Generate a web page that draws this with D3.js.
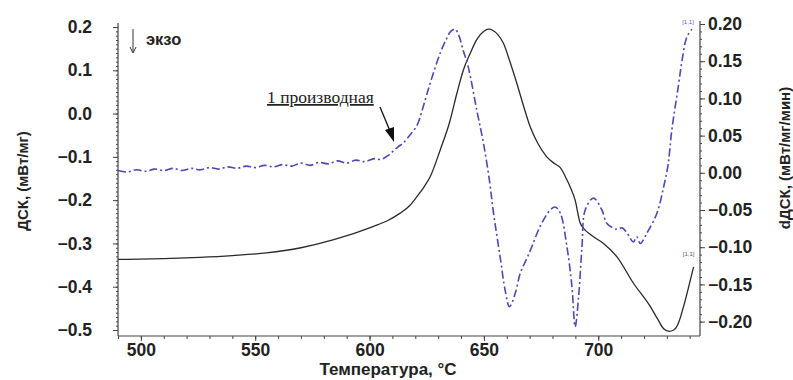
<!DOCTYPE html>
<html>
<head>
<meta charset="utf-8">
<script src="https://cdn.jsdelivr.net/npm/d3@7/dist/d3.min.js"></script>
<style>
  html, body { margin: 0; padding: 0; background: #fff; }
  svg { display: block; }
  .tick text { font-family: "Liberation Sans", Arial, sans-serif; font-weight: bold; fill: #222; }
</style>
</head>
<body>
<svg id="chart" width="793" height="380"></svg>
<script>
// DSC curve (left axis): temperature, °C and heat flow, mW/mg
const dscTemp = [490, 510, 525.8, 540, 555, 570, 584, 601.5, 608, 613.4, 617.5, 620.7, 624, 626.5, 630.9, 635, 638.2, 641, 644, 647, 650, 652, 654, 656, 658.6, 661.5, 664.4, 667.3, 670.2, 673.5, 677.5, 681, 683.4, 686.3, 687.7, 689.9, 692.1, 693.6, 697, 702.3, 708.2, 715.4, 722.8, 726, 728.6, 731, 733, 735, 737.3, 740.3, 741.7];
const dscValue = [-0.337, -0.335, -0.332, -0.328, -0.322, -0.310, -0.292, -0.261, -0.247, -0.230, -0.213, -0.192, -0.168, -0.146, -0.084, -0.020, 0.047, 0.100, 0.139, 0.172, 0.190, 0.195, 0.192, 0.183, 0.162, 0.118, 0.070, 0.018, -0.030, -0.068, -0.100, -0.116, -0.125, -0.153, -0.169, -0.200, -0.253, -0.265, -0.281, -0.300, -0.331, -0.392, -0.446, -0.475, -0.497, -0.503, -0.500, -0.485, -0.446, -0.384, -0.354];

// First derivative of DSC (right axis): mW/mg/min
const dTemp = [490, 494, 498, 502, 506, 510, 514, 518, 522, 526, 530, 534, 538, 542, 546, 550, 554, 558, 562, 566, 570, 574, 578, 582, 586, 590, 594, 598, 602, 605, 608, 610.3, 612.5, 614.7, 617.5, 620.8, 623, 625, 627.4, 630.9, 633.8, 635.5, 637.4, 639, 640.9, 643.1, 646.9, 649.8, 652.5, 654.2, 657.1, 659.3, 661.2, 663.7, 665.9, 668.8, 671, 674.6, 679, 681.2, 683.4, 686.3, 688.5, 689.9, 691.4, 692.9, 694.3, 697.9, 701.6, 703.8, 708.2, 710.5, 712.6, 715.4, 716.8, 718.4, 721.3, 725.7, 728.6, 730.5, 732.2, 735.1, 736.6, 738.8, 741];
const dValue = [0.003, 0.001, 0.004, 0.002, 0.005, 0.003, 0.006, 0.003, 0.006, 0.004, 0.007, 0.005, 0.008, 0.006, 0.009, 0.007, 0.010, 0.008, 0.011, 0.009, 0.013, 0.010, 0.014, 0.012, 0.016, 0.013, 0.017, 0.015, 0.019, 0.018, 0.023, 0.029, 0.035, 0.040, 0.050, 0.064, 0.084, 0.105, 0.129, 0.161, 0.181, 0.190, 0.193, 0.185, 0.165, 0.143, 0.084, 0.040, -0.012, -0.054, -0.113, -0.158, -0.180, -0.162, -0.135, -0.115, -0.099, -0.072, -0.050, -0.046, -0.054, -0.099, -0.153, -0.207, -0.167, -0.099, -0.050, -0.034, -0.050, -0.068, -0.076, -0.074, -0.081, -0.093, -0.086, -0.095, -0.081, -0.054, -0.019, 0.010, 0.058, 0.118, 0.150, 0.183, 0.193];

// Tick values
const xTicks = [500, 550, 600, 650, 700];
const leftTicks = [0.2, 0.1, 0.0, -0.1, -0.2, -0.3, -0.4, -0.5];
const rightTicks = [0.20, 0.15, 0.10, 0.05, 0.00, -0.05, -0.10, -0.15, -0.20];

const xTitle = "Температура, °C";
const leftTitle = "ДСК, (мВт/мг)";
const rightTitle = "dДСК, (мВт/мг/мин)";
const exoLabel = "экзо";
const noteLabel = "1 производная";
const endMark = "[1,1]";

const svg = d3.select("#chart");
const plotLeft = 118, plotRight = 700, plotBottom = 336;

const x = d3.scaleLinear().domain([490, 744.5]).range([plotLeft, plotRight]);
const yL = d3.scaleLinear().domain([-0.5, 0.2]).range([330, 27]);
const yR = d3.scaleLinear().domain([-0.2, 0.2]).range([321.6, 24]);

const axisColor = "#444";
const fontTick = "17.5px";
const sans = "'Liberation Sans', Arial, sans-serif";

// axis lines
svg.append("line").attr("x1", plotLeft).attr("x2", plotLeft).attr("y1", 23).attr("y2", plotBottom)
  .attr("stroke", axisColor).attr("stroke-width", 1.2);
svg.append("line").attr("x1", plotRight).attr("x2", plotRight).attr("y1", 21).attr("y2", plotBottom)
  .attr("stroke", axisColor).attr("stroke-width", 1.2);
svg.append("line").attr("x1", plotLeft).attr("x2", plotRight).attr("y1", plotBottom).attr("y2", plotBottom)
  .attr("stroke", axisColor).attr("stroke-width", 1.2);

function styleAxis(g) {
  g.select(".domain").remove();
  g.selectAll(".tick line").attr("stroke", axisColor).attr("stroke-width", 1);
  g.selectAll(".tick text").style("font-size", fontTick);
}

// bottom axis
svg.append("g").attr("transform", `translate(0,${plotBottom})`)
  .call(d3.axisBottom(x).tickValues(d3.range(490, 741, 10)).tickSize(3).tickFormat(""))
  .call(styleAxis);
svg.append("g").attr("transform", `translate(0,${plotBottom})`)
  .call(d3.axisBottom(x).tickValues(xTicks).tickSize(5).tickPadding(3).tickFormat(d3.format("d")))
  .call(styleAxis);

// left axis
svg.append("g").attr("transform", `translate(${plotLeft},0)`)
  .call(d3.axisLeft(yL).tickValues(d3.range(-50, 21, 1).map(v => v / 100)).tickSize(2).tickFormat(""))
  .call(styleAxis);
svg.append("g").attr("transform", `translate(${plotLeft},0)`)
  .call(d3.axisLeft(yL).tickValues(leftTicks).tickSize(5).tickPadding(21).tickFormat(d3.format(".1f")))
  .call(styleAxis);

// right axis
svg.append("g").attr("transform", `translate(${plotRight},0)`)
  .call(d3.axisRight(yR).tickValues(d3.range(-20, 21, 1).map(v => v / 100)).tickSize(2).tickFormat(""))
  .call(styleAxis);
svg.append("g").attr("transform", `translate(${plotRight},0)`)
  .call(d3.axisRight(yR).tickValues(rightTicks).tickSize(5).tickPadding(3).tickFormat(d3.format(".2f")))
  .call(styleAxis);

// axis titles
svg.append("text").attr("x", 388).attr("y", 374.5).attr("text-anchor", "middle")
  .attr("font-family", sans).attr("font-size", "17px").attr("font-weight", "bold")
  .attr("fill", "#222").text(xTitle);
svg.append("text").attr("transform", "translate(28,181) rotate(-90)").attr("text-anchor", "middle")
  .attr("font-family", sans).attr("font-size", "15px").attr("font-weight", "bold")
  .attr("fill", "#222").text(leftTitle);
svg.append("text").attr("transform", "translate(790,158) rotate(-90)").attr("text-anchor", "middle")
  .attr("font-family", sans).attr("font-size", "15px").attr("font-weight", "bold")
  .attr("fill", "#222").text(rightTitle);

// curves
const dscPts = dscTemp.map((t, i) => [t, dscValue[i]]);
const dPts = dTemp.map((t, i) => [t, dValue[i]]);

svg.append("path").datum(dscPts)
  .attr("d", d3.line().x(d => x(d[0])).y(d => yL(d[1])).curve(d3.curveMonotoneX))
  .attr("fill", "none").attr("stroke", "#2a2a2a").attr("stroke-width", 1.3);

svg.append("path").datum(dPts)
  .attr("d", d3.line().x(d => x(d[0])).y(d => yR(d[1])).curve(d3.curveCatmullRom.alpha(0.5)))
  .attr("fill", "none").attr("stroke", "#4a4ab4").attr("stroke-width", 1.6)
  .attr("stroke-dasharray", "8,3,2,3");

// end-of-curve markers
const lastD = dPts[dPts.length - 1];
const lastS = dscPts[dscPts.length - 1];
svg.append("text").attr("x", x(lastD[0]) - 4).attr("y", yR(lastD[1]) - 5).attr("text-anchor", "middle")
  .attr("font-family", sans).attr("font-size", "6px").attr("fill", "#6a5acd").text(endMark);
svg.append("text").attr("x", x(lastS[0]) - 5).attr("y", yL(lastS[1]) - 11).attr("text-anchor", "middle")
  .attr("font-family", sans).attr("font-size", "6px").attr("fill", "#6a4a6a").text(endMark);

// exo direction label
svg.append("path").attr("d", "M133,29 L133,52 M130,47 L133,53 L136,47")
  .attr("fill", "none").attr("stroke", "#333").attr("stroke-width", 1);
svg.append("text").attr("x", 146).attr("y", 45)
  .attr("font-family", sans).attr("font-size", "16.5px").attr("font-weight", "bold")
  .attr("fill", "#222").text(exoLabel);

// derivative annotation with arrow
svg.append("text").attr("x", 267).attr("y", 103)
  .attr("font-family", "'Liberation Serif', 'Times New Roman', serif").attr("font-size", "17.5px")
  .attr("fill", "#222").attr("text-decoration", "underline").text(noteLabel);
svg.append("line").attr("x1", 380).attr("y1", 107).attr("x2", 390).attr("y2", 131)
  .attr("stroke", "#111").attr("stroke-width", 1.3);
svg.append("path").attr("d", "M394,142 L385,130 L394,127 Z").attr("fill", "#111");
</script>
</body>
</html>
